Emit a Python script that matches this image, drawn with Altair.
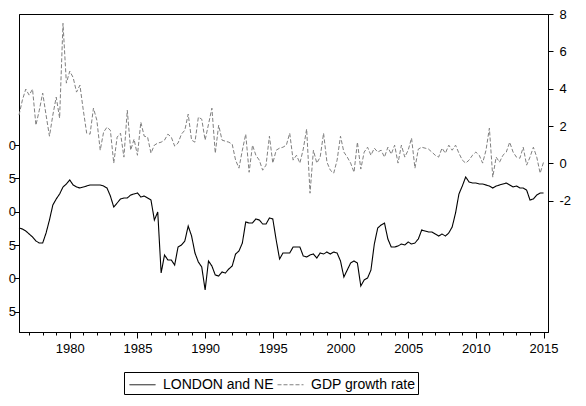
import altair as alt
import pandas as pd

# quarterly observations starting 1976Q2
start_year = 1976.25

london = [
    -0.245, -0.26, -0.29, -0.335, -0.38, -0.44, -0.47, -0.47, -0.32, -0.125,
    0.10, 0.19, 0.265, 0.37, 0.415, 0.475, 0.40, 0.37, 0.355, 0.37,
    0.385, 0.40, 0.40, 0.40, 0.40, 0.385, 0.355, 0.235, 0.07, 0.13,
    0.19, 0.205, 0.205, 0.25, 0.265, 0.28, 0.22, 0.235, 0.205, 0.175,
    -0.125, -0.005, -0.92, -0.65, -0.725, -0.725, -0.80, -0.53, -0.50, -0.44,
    -0.215, -0.365, -0.62, -0.755, -0.83, -1.175, -0.74, -0.815, -0.95, -0.965,
    -0.905, -0.92, -0.86, -0.815, -0.635, -0.59, -0.47, -0.155, -0.17, -0.17,
    -0.11, -0.125, -0.185, -0.185, -0.095, -0.11, -0.425, -0.71, -0.62, -0.62,
    -0.62, -0.53, -0.53, -0.53, -0.665, -0.68, -0.65, -0.635, -0.695, -0.62,
    -0.635, -0.605, -0.635, -0.605, -0.62, -0.74, -0.98, -0.875, -0.77, -0.74,
    -0.77, -1.115, -1.025, -0.995, -0.875, -0.485, -0.245, -0.20, -0.17, -0.41,
    -0.53, -0.53, -0.515, -0.485, -0.50, -0.455, -0.485, -0.47, -0.41, -0.275,
    -0.29, -0.305, -0.305, -0.335, -0.365, -0.335, -0.365, -0.32, -0.23, -0.02,
    0.265, 0.385, 0.52, 0.445, 0.43, 0.43, 0.415, 0.415, 0.40, 0.385,
    0.355, 0.385, 0.40, 0.415, 0.43, 0.40, 0.37, 0.385, 0.355, 0.355,
    0.325, 0.175, 0.19, 0.25, 0.28, 0.28,
]

gdp = [
    2.59, 3.39, 3.98, 3.66, 3.98, 2.05, 2.85, 3.77, 2.59, 1.46,
    2.59, 3.55, 2.43, 7.50, 4.30, 4.94, 4.60, 3.82, 4.19, 2.85,
    1.62, 1.57, 2.96, 2.32, 0.71, 1.68, 1.94, 1.78, 0.02, 1.41,
    1.62, 0.34, 2.85, 0.71, 1.30, 0.44, 2.21, 1.46, 1.41, 0.55,
    0.98, 1.09, 1.14, 1.25, 1.57, 1.41, 0.93, 1.09, 1.57, 1.78,
    2.64, 1.25, 1.14, 2.48, 2.37, 1.25, 2.10, 2.96, 0.55, 2.05,
    1.25, 1.19, 1.14, 1.03, 0.18, -0.25, 0.71, 1.57, -0.47, 0.98,
    0.44, 0.18, -0.36, -0.09, 1.46, 0.02, 0.71, 0.82, 0.87, 0.98,
    1.62, 0.18, 0.44, 0.02, 0.77, 1.84, -1.59, 0.71, 0.02, 0.34,
    1.62, 0.07, -0.36, -0.52, 0.18, 1.46, 0.61, 0.34, 0.02, -0.47,
    1.14, -0.30, 0.61, 0.87, 0.44, 0.82, 0.61, 0.71, 0.34, 0.87,
    0.50, 0.98, 0.02, 0.98, 0.34, 0.71, 1.36, -0.25, 0.77, 0.87,
    0.82, 0.77, 0.61, 0.44, 0.34, 0.82, 0.55, 0.98, 0.71, 0.98,
    0.55, 0.18, 0.02, 0.18, 0.44, 0.61, 0.44, 0.02, 0.71, 1.89,
    -0.73, 0.34, 0.07, 0.44, 0.61, 1.14, 0.61, 0.34, 0.28, 0.87,
    -0.09, 0.34, 0.87, 0.34, -0.52, 0.07,
]

series_names = ["LONDON and NE", "GDP growth rate"]
series_colors = ["#000000", "#808080"]
x_tick_years = list(range(1977, 2016))
left_ticks = [1.0, 0.5, 0.0, -0.5, -1.0, -1.5]
right_ticks = [8, 6, 4, 2, 0, -2]

dates = [start_year + 0.25 * i for i in range(len(london))]
df_l = pd.DataFrame({"t": dates, "v": london, "series": series_names[0]})
df_g = pd.DataFrame({"t": dates[: len(gdp)], "v": gdp, "series": series_names[1]})

FONT = "Liberation Sans"

color_scale = alt.Scale(domain=series_names, range=series_colors)
dash_scale = alt.Scale(domain=series_names, range=[[1, 0], [4, 2]])

legend = alt.Legend(
    title=None,
    orient="none",
    legendX=105,
    legendY=358,
    direction="horizontal",
    strokeColor="black",
    fillColor="white",
    padding=2,
    symbolType="M-1.3,0H1.3",
    symbolSize=400,
    symbolStrokeWidth=1,
    symbolOffset=6,
    labelFont=FONT,
    labelFontSize=14,
    labelColor="black",
    labelOffset=10,
    columnPadding=0,
)

x_enc = alt.X(
    "t:Q",
    scale=alt.Scale(domain=[1976.25, 2015.33], nice=False, zero=False),
    axis=alt.Axis(
        title=None,
        values=x_tick_years,
        format="d",
        labelExpr="datum.value % 5 == 0 ? datum.label : ''",
        labelOverlap=False,
        labelFlush=False,
        grid=False,
        tickSize={"condition": {"test": "datum.value % 5 == 0", "value": 6}, "value": 3},
        labelPadding=4,
    ),
)

line_l = alt.Chart(df_l).mark_line(strokeWidth=1.1).encode(
    x=x_enc,
    y=alt.Y(
        "v:Q",
        scale=alt.Scale(domain=[-1.805, 2.965], nice=False, zero=False),
        axis=alt.Axis(
            title=None,
            orient="left",
            values=left_ticks,
            labelExpr="slice(format(datum.value, '.1f'), -1)",
            grid=False,
            tickSize=5,
            labelPadding=-1.5,
        ),
    ),
    color=alt.Color("series:N", scale=color_scale, legend=legend),
    strokeDash=alt.StrokeDash("series:N", scale=dash_scale, legend=legend),
)

line_g = alt.Chart(df_g).mark_line(strokeWidth=1).encode(
    x=x_enc,
    y=alt.Y(
        "v:Q",
        scale=alt.Scale(domain=[-9.02, 8], nice=False, zero=False),
        axis=alt.Axis(
            title=None,
            orient="right",
            values=right_ticks,
            labelExpr="'' + datum.value",
            grid=False,
            tickSize=5,
            labelPadding=6,
        ),
    ),
    color=alt.Color("series:N", scale=color_scale, legend=legend),
    strokeDash=alt.StrokeDash("series:N", scale=dash_scale, legend=legend),
)

chart = (
    alt.layer(line_l, line_g)
    .resolve_scale(y="independent")
    .properties(
        width=529,
        height=318,
        autosize=alt.AutoSizeParams(type="none"),
        padding={"left": 11, "top": 6, "right": 30, "bottom": 66},
        background="white",
    )
    .configure_view(stroke="black", strokeWidth=1)
    .configure_axis(
        domainColor="black",
        domainWidth=1,
        tickColor="black",
        tickWidth=1,
        labelFont=FONT,
        labelFontSize=13,
        labelColor="black",
    )
)

chart.save("out.html", embed_options={"renderer": "svg", "actions": False})
